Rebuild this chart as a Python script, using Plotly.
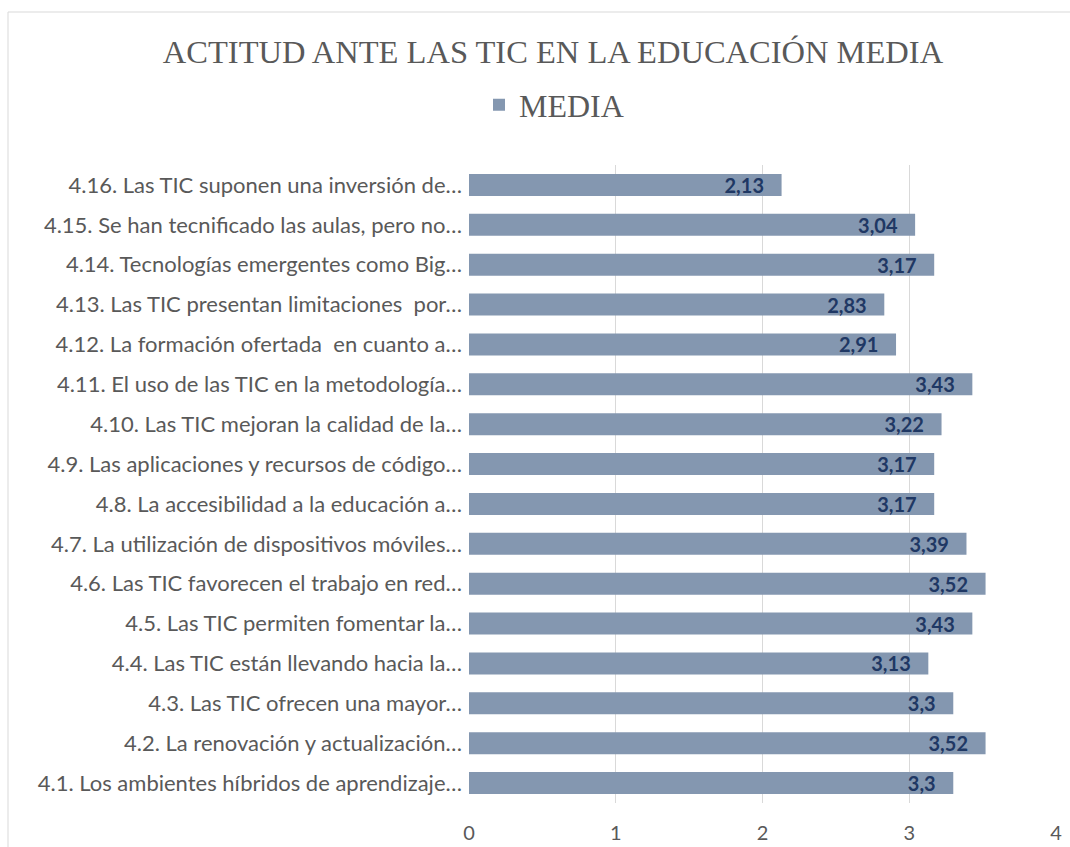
import plotly.graph_objects as go

categories = [
    "4.1. Los ambientes híbridos de aprendizaje…",
    "4.2. La renovación y actualización…",
    "4.3. Las TIC ofrecen una mayor…",
    "4.4. Las TIC están llevando hacia la…",
    "4.5. Las TIC permiten fomentar la…",
    "4.6. Las TIC favorecen el trabajo en red…",
    "4.7. La utilización de dispositivos móviles…",
    "4.8. La accesibilidad a la educación a…",
    "4.9. Las aplicaciones y recursos de código…",
    "4.10. Las TIC mejoran la calidad de la…",
    "4.11. El uso de las TIC en la metodología…",
    "4.12. La formación ofertada  en cuanto a…",
    "4.13. Las TIC presentan limitaciones  por…",
    "4.14. Tecnologías emergentes como Big…",
    "4.15. Se han tecnificado las aulas, pero no…",
    "4.16. Las TIC suponen una inversión de…",
]
media = [3.3, 3.52, 3.3, 3.13, 3.43, 3.52, 3.39, 3.17, 3.17, 3.22, 3.43, 2.91, 2.83, 3.17, 3.04, 2.13]
x_ticks = [0, 1, 2, 3, 4]

labels = [("%g" % v).replace(".", ",") + "\u00a0\u00a0\u00a0" for v in media]

fig = go.Figure()
fig.add_trace(go.Bar(
    y=categories, x=media, orientation="h", name="MEDIA",
    marker=dict(color="#8497B0", line=dict(width=0)),
    text=labels, textposition="inside", insidetextanchor="end",
    constraintext="none",
    textfont=dict(family="Lato", size=20, color="#1F3864", weight="bold"),
    textangle=0, cliponaxis=False, hoverinfo="skip",
))

fig.update_layout(
    width=1070, height=847,
    paper_bgcolor="white", plot_bgcolor="white",
    margin=dict(l=469, r=14, t=165, b=44, autoexpand=False),
    bargap=0.45,
    title=dict(text="ACTITUD ANTE LAS TIC EN LA EDUCACIÓN MEDIA",
               font=dict(family="Liberation Serif", size=32.5, color="#595959"),
               x=553/1070, xref="container", xanchor="center",
               y=1 - 52/847, yref="container", yanchor="middle"),
    showlegend=True,
    legend=dict(orientation="h", x=554/1070, xref="container", xanchor="center",
                y=1 - 105/847, yref="container", yanchor="middle",
                font=dict(family="Liberation Serif", size=32, color="#595959"),
                itemwidth=30, bgcolor="rgba(0,0,0,0)"),
    xaxis=dict(range=[0, 4], tickvals=x_ticks, showgrid=True, gridcolor="#D9D9D9", gridwidth=1,
               zeroline=False, showline=False, ticks="", ticklabelstandoff=16, automargin=False,
               tickfont=dict(family="Lato", size=20, color="#595959")),
    yaxis=dict(showgrid=False, zeroline=False, showline=False, ticks="", automargin=False,
               ticklabelstandoff=6, categoryorder="array", categoryarray=categories,
               tickfont=dict(family="Lato", size=22, color="#595959")),
    shapes=[dict(type="rect", xref="paper", yref="paper",
                 x0=(8 - 469) / 587, x1=1.2, y0=-0.3, y1=(803 - 12) / 638,
                 line=dict(color="#D9D9D9", width=1), fillcolor="rgba(0,0,0,0)", layer="below")],
)

fig.write_html("out.html", config={"displayModeBar": False},
               post_script="document.body.style.margin='0px';document.body.style.overflow='hidden';")
